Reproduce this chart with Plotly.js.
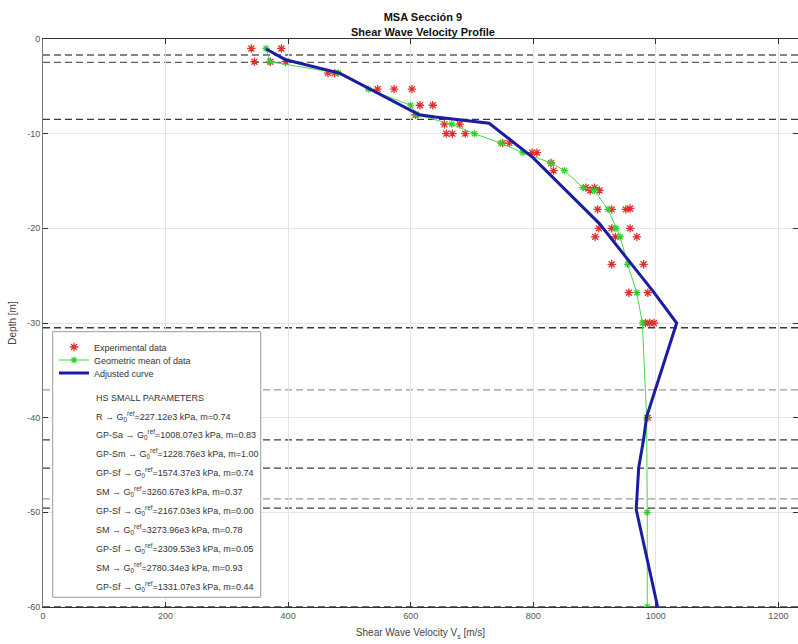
<!DOCTYPE html>
<html><head><meta charset="utf-8">
<script src="https://cdn.plot.ly/plotly-3.0.1.min.js"></script>
<style>html,body{margin:0;padding:0;overflow:hidden;background:#fff}</style>
</head><body><div id="chart" style="width:798px;height:644px"></div>
<script>
// ---------- data ----------
const expVs    = [340,389, 345,371,396, 465,476, 546,573,602, 615,636, 608, 655,680, 658,668,689, 750,761, 798,806, 829,833, 886,893,900,908, 905,928,951,958, 907,928,958, 901,934,969, 928,980, 956,987, 983,990,997, 987];
const expDepth = [-1.0,-1.0, -2.4,-2.4,-2.4, -3.6,-3.6, -5.3,-5.3,-5.3, -7.0,-7.0, -8.0, -9.0,-9.0, -10.0,-10.0,-10.0, -11.0,-11.0, -12.0,-12.0, -13.1,-13.9, -15.7,-16.0,-15.7,-16.0, -18.0,-18.0,-18.0,-17.9, -20.0,-20.0,-20.0, -20.9,-20.9,-20.9, -23.8,-23.8, -26.8,-26.8, -30.0,-30.0,-30.0, -40.0];

const meanVs    = [364,370,482,531,600,610,667,704,747,783,829,851,881,900,922,935,942,954,969,978,985,986,986];
const meanDepth = [-1.0,-2.4,-3.6,-5.3,-7.0,-8.0,-9.0,-10.0,-11.0,-12.0,-13.1,-13.9,-15.7,-16.0,-18.0,-20.0,-20.9,-23.8,-26.8,-30.0,-40.0,-50.0,-60.0];

const fitVs    = [364,396,484,614,640,728,799,908,958,995,1034,985,980,972,968,1003];
const fitDepth = [-1.06,-2.2,-3.6,-8.0,-8.25,-8.9,-12.5,-19.5,-23.6,-26.6,-30.0,-39.9,-42.3,-45.3,-49.7,-60.0];

const layerDepths = [-1.69,-2.46,-8.48,-30.5,-37.06,-42.34,-45.33,-48.57,-49.56,-60.0];
const layerTone   = ['mid','mid','dark','dark','light','dark','dark','light','dark','dark'];

const xTickVals  = [0,200,400,600,800,1000,1200];
const yTickVals  = [0,-10,-20,-30,-40,-50,-60];
const yTickText  = ['0','-10','-20','-30','-40','-50','-60'];

const paramSoil = ['R','GP-Sa','GP-Sm','GP-Sf','SM','GP-Sf','SM','GP-Sf','SM','GP-Sf'];
const paramG    = ['227.12','1008.07','1228.76','1574.37','3260.67','2167.03','3273.96','2309.53','2780.34','1331.07'];
const paramM    = ['0.74','0.83','1.00','0.74','0.37','0.00','0.78','0.05','0.93','0.44'];

// ---------- layout helpers (pixel -> paper) ----------
const L = 43, T = 39, W = 755, H = 568;
const px = x => (x - L) / W;
const py = y => (T + H - y) / H;
const FONT = 'Liberation Sans, Arial, Helvetica, sans-serif';
const toneColor = {dark:'#3a3a3a', mid:'#5e5e5e', light:'#9a9a9a'};

const traces = [
  {x: expVs, y: expDepth, type:'scatter', mode:'markers', name:'Experimental data',
   marker:{symbol:'asterisk-open', size:7, color:'#e0302e', line:{width:1.3, color:'#e0302e'}},
   legend:'legend'},
  {x: meanVs, y: meanDepth, type:'scatter', mode:'lines+markers', name:'Geometric mean of data',
   line:{color:'#44d944', width:1},
   marker:{symbol:'asterisk-open', size:6, color:'#2fcf2f', line:{width:1.2, color:'#2fcf2f'}},
   legend:'legend2'},
  {x: fitVs, y: fitDepth, type:'scatter', mode:'lines', name:'Adjusted curve',
   line:{color:'#1b1ba3', width:3},
   legend:'legend3'}
];

const shapes = layerDepths.map((d,i) => ({
  type:'line', xref:'paper', x0:0, x1:1, yref:'y', y0:d, y1:d, layer:'between',
  line:{color: toneColor[layerTone[i]], width:1.3, dash:'7px,4px'}
}));
shapes.push({type:'rect', xref:'paper', yref:'paper', layer:'above',
  x0:px(52.7), x1:px(260.7), y0:py(597.3), y1:py(331.7),
  fillcolor:'#ffffff', line:{color:'#9a9a9a', width:1}});

const annotations = [{
  xref:'paper', yref:'paper', x:px(94), y:py(398), xanchor:'left', yanchor:'middle',
  text:'HS SMALL PARAMETERS', showarrow:false, font:{family:FONT, size:9, color:'#333'}
}];
paramSoil.forEach((s,i) => {
  annotations.push({
    xref:'paper', yref:'paper', x:px(94), y:py(416 + 18.9*i), xanchor:'left', yanchor:'middle',
    text: s + ' \u2192 G<sub>0</sub><sup>ref</sup>=' + paramG[i] + 'e3 kPa, m=' + paramM[i],
    showarrow:false, font:{family:FONT, size:9, color:'#333'}
  });
});

const legendBase = {xanchor:'left', yanchor:'middle', bgcolor:'rgba(0,0,0,0)', borderwidth:0,
  font:{family:FONT, size:9, color:'#333'}, itemwidth:30};

const layout = {
  width:798, height:644,
  margin:{l:L, r:0, t:T, b:644-T-H, pad:0},
  paper_bgcolor:'#ffffff', plot_bgcolor:'#ffffff',
  font:{family:FONT, color:'#555'},
  title:{text:'MSA Secci\u00f3n 9<br>Shear Wave Velocity Profile', x:0.53, xanchor:'center',
         y:0.967, yanchor:'top', yref:'container',
         font:{family:FONT, size:11, color:'#111', weight:'bold'}},
  xaxis:{range:[0,1232], tickvals:xTickVals, ticks:'inside', ticklen:5, tickcolor:'#333',
         showline:true, linecolor:'#333', linewidth:1.2, mirror:'ticks',
         showgrid:true, gridcolor:'#e4e4e4', gridwidth:1, zeroline:false,
         tickfont:{family:FONT, size:9, color:'#555'},
         title:{text:'Shear Wave Velocity V<sub>s</sub> [m/s]', standoff:9,
                font:{family:FONT, size:10, color:'#444'}}},
  yaxis:{range:[-60,0], tickvals:yTickVals, ticktext:yTickText, ticks:'inside', ticklen:5, tickcolor:'#333',
         showline:true, linecolor:'#777', linewidth:1, mirror:'ticks',
         showgrid:true, gridcolor:'#e4e4e4', gridwidth:1, zeroline:false,
         tickfont:{family:FONT, size:9, color:'#555'},
         title:{text:'Depth [m]', standoff:8, font:{family:FONT, size:10, color:'#444'}}},
  legend: Object.assign({x:px(54), y:py(347)}, legendBase),
  legend2: Object.assign({x:px(54), y:py(360)}, legendBase),
  legend3: Object.assign({x:px(54), y:py(373)}, legendBase),
  shapes: shapes,
  annotations: annotations,
  showlegend:true
};

Plotly.newPlot('chart', traces, layout, {displayModeBar:false, staticPlot:true});
</script></body></html>
